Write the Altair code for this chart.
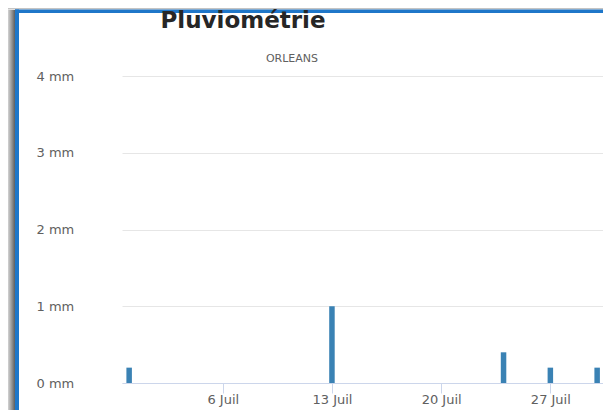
import altair as alt
import pandas as pd

# ---- data ----
dates = ["2023-06-30", "2023-07-13", "2023-07-24", "2023-07-27", "2023-07-30"]
rain_mm = [0.2, 1.0, 0.4, 0.2, 0.2]
y_ticks = [0, 1, 2, 3, 4]
x_tick_days = [6, 13, 20, 27]
title_text = "Pluviométrie"
subtitle_text = "ORLEANS"

df = pd.DataFrame({"date": dates, "pluie": rain_mm})

W, H = 481, 307
BLUE = "#1f77c9"
AXIS_COL = "#ccd6eb"
GRID_COL = "#e6e6e6"
LABEL_COL = "#606060"

x_scale = alt.Scale(
    type="utc",
    padding=0,
    domain=[
        alt.DateTime(year=2023, month=6, date=29, hours=13, utc=True),
        alt.DateTime(year=2023, month=7, date=30, hours=9, utc=True),
    ],
)

bars = alt.Chart(df).mark_bar(size=5.5, color="#3a82b4").encode(
    x=alt.X(
        "date:T",
        scale=x_scale,
        axis=alt.Axis(
            title=None,
            values=[alt.DateTime(year=2023, month=7, date=d, utc=True) for d in x_tick_days],
            labelExpr="utcFormat(datum.value, '%-d') + ' Juil'",
            grid=False,
            domainColor=AXIS_COL,
            tickColor=AXIS_COL,
            tickSize=10,
            labelPadding=0,
            labelColor=LABEL_COL,
            labelFont="DejaVu Sans",
            labelFontSize=13,
            labelBaseline="top",
        ),
    ),
    y=alt.Y(
        "pluie:Q",
        scale=alt.Scale(domain=[0, 4], nice=False, padding=0),
        axis=alt.Axis(
            title=None,
            values=y_ticks,
            labelExpr="datum.value + ' mm'",
            grid=True,
            gridColor=GRID_COL,
            domain=False,
            ticks=False,
            labelAlign="left",
            labelBaseline="middle",
            labelPadding=86,
            labelColor=LABEL_COL,
            labelFont="DejaVu Sans",
            labelFontSize=13,
        ),
    ),
)

one = pd.DataFrame({"k": [0]})

shadow_left = alt.Chart(one).mark_rect(
    color=alt.LinearGradient(
        gradient="linear", x1=0, x2=1, y1=0, y2=0,
        stops=[alt.GradientStop(color="#d4d4d4", offset=0),
               alt.GradientStop(color="#5e5e5e", offset=1)],
    )
).encode(x=alt.value(-114), x2=alt.value(-107), y=alt.value(-66), y2=alt.value(H + 40))

shadow_top = alt.Chart(one).mark_rect(color="#c4c4c4").encode(
    x=alt.value(-114), x2=alt.value(W + 10), y=alt.value(-68), y2=alt.value(-66.5)
)

border_left = alt.Chart(one).mark_rect(color=BLUE).encode(
    x=alt.value(-107), x2=alt.value(-103), y=alt.value(-66.5), y2=alt.value(H + 40)
)
border_top = alt.Chart(one).mark_rect(color=BLUE).encode(
    x=alt.value(-107), x2=alt.value(W + 10), y=alt.value(-66.5), y2=alt.value(-63)
)

title = alt.Chart(pd.DataFrame({"t": [title_text]})).mark_text(
    font="DejaVu Sans", fontSize=23, fontWeight="bold", color="#262626",
    align="center", baseline="alphabetic",
).encode(text="t:N", x=alt.value(121), y=alt.value(-48))

subtitle = alt.Chart(pd.DataFrame({"t": [subtitle_text]})).mark_text(
    font="DejaVu Sans", fontSize=11, color=LABEL_COL,
    align="center", baseline="alphabetic",
).encode(text="t:N", x=alt.value(170), y=alt.value(-14))

chart = alt.layer(
    shadow_left, shadow_top, border_left, border_top, bars, title, subtitle
).properties(
    width=W,
    height=H,
    autosize=alt.AutoSizeParams(type="none"),
    padding={"left": 114, "top": 68, "right": 0, "bottom": 27},
    background="white",
).configure_view(strokeWidth=0)

chart.save("out.html", embed_options={"renderer": "svg", "actions": False})
